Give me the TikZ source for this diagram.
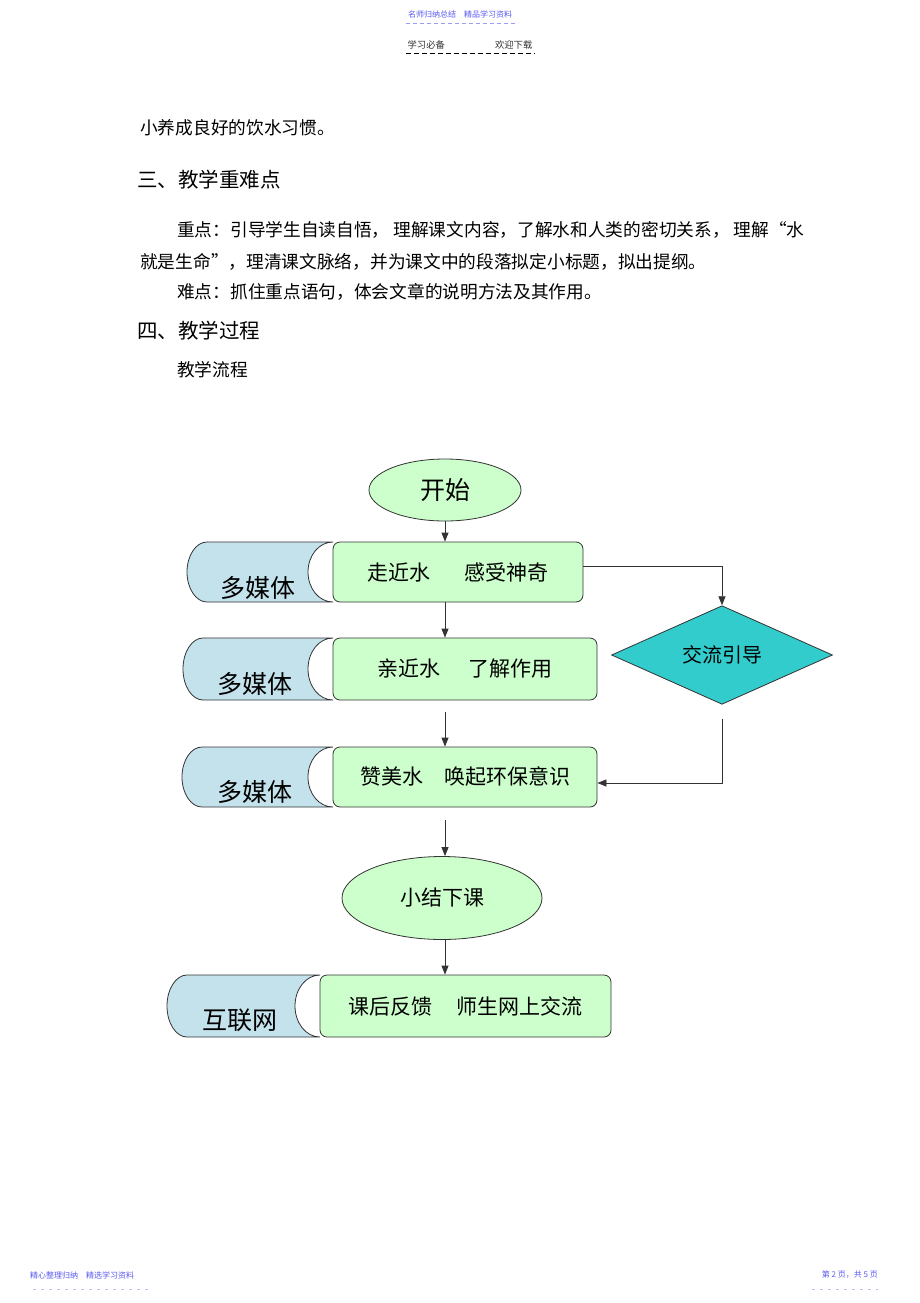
\documentclass[tikz,border=0pt]{standalone}
\usepackage{fontspec}
\setmainfont{Noto Sans CJK SC}
\usepackage{xcolor}
\usepackage{tikz}
\usetikzlibrary{shapes.geometric, arrows.meta}

\definecolor{boxgreen}{HTML}{CCFFCC}
\definecolor{mediablue}{HTML}{C4E2EC}
\definecolor{talkteal}{HTML}{33CCCC}
\definecolor{edgegray}{HTML}{333333}
\definecolor{headblue}{HTML}{5A5AF0}

% media tab: left, right, top, bottom (pixel units)
\newcommand{\mediatab}[4]{%
  \filldraw[mediatab]
    ({#1+20},#3) -- (#2,#3)
    .. controls ({#2-14},#3) and ({#2-25},{#3+0.224*(#4-#3)}) .. ({#2-25},{(#3+#4)/2})
    .. controls ({#2-25},{#4-0.224*(#4-#3)}) and ({#2-14},#4) .. (#2,#4)
    -- ({#1+20},#4)
    .. controls ({#1+9},#4) and (#1,{#4-0.224*(#4-#3)}) .. (#1,{(#3+#4)/2})
    .. controls (#1,{#3+0.224*(#4-#3)}) and ({#1+9},#3) .. ({#1+20},#3) -- cycle;}

\begin{document}
\begin{tikzpicture}[x=1pt, y=-1pt,
    body/.style={font=\fontsize{17.7pt}{21pt}\selectfont, anchor=west, inner sep=0pt},
    heading/.style={font=\fontsize{20.5pt}{24pt}\selectfont, anchor=west, inner sep=0pt},
    headtext/.style={font=\fontsize{8pt}{10pt}\selectfont, inner sep=0pt},
    stepbox/.style={thick, draw=edgegray, fill=boxgreen, rectangle, rounded corners=7pt,
        font=\fontsize{21pt}{25pt}\selectfont},
    startend/.style={thick, draw=edgegray, fill=boxgreen, ellipse},
    mediatab/.style={thick, draw=edgegray, fill=mediablue},
    medialabel/.style={font=\fontsize{25pt}{28pt}\selectfont, inner sep=0pt},
    flow/.style={thick, draw=edgegray, -{Triangle[length=9pt, width=7pt]}}]

    \fill[white] (0,0) rectangle (920,1303);
    \useasboundingbox (0,0) rectangle (920,1303);

    % page header and footer
    \node[headtext, text=headblue] at (460,14) (head1) {名师归纳总结\hspace{1em}精品学习资料};
    \draw[headblue!60, dash pattern=on 4pt off 3pt] (406,23) -- (518,23);
    \node[headtext, font=\fontsize{9.3pt}{11pt}\selectfont, text=black!80] at (470,45) (head2) {学习必备\hspace{5.4em}欢迎下载};
    \draw[thick, dash pattern=on 5pt off 3pt] (406,53) -- (535,53);
    \node[headtext, text=headblue, anchor=west] at (30,1275) (foot1) {精心整理归纳\hspace{1em}精选学习资料};
    \draw[headblue!40, dash pattern=on 3pt off 5pt] (33,1289) -- (148,1289);
    \node[headtext, text=headblue, anchor=east] at (878,1275) (foot2) {第 2 页，共 5 页};
    \draw[headblue!40, dash pattern=on 3pt off 5pt] (812,1289) -- (878,1289);

    % text of the page
    \node[body] at (140,128) (line1) {小养成良好的饮水习惯。};
    \node[heading] at (137,180) (sec3) {三、教学重难点};
    \node[body] at (177,230) (key1) {重点：引导学生自读自悟，\ 理解课文内容，了解水和人类的密切关系，\ 理解“水};
    \node[body] at (140,262) (key2) {就是生命”，理清课文脉络，并为课文中的段落拟定小标题，拟出提纲。};
    \node[body] at (177,292) (hard) {难点：抓住重点语句，体会文章的说明方法及其作用。};
    \node[heading] at (137,331) (sec4) {四、教学过程};
    \node[body] at (177,370) (flowtitle) {教学流程};

    % media tabs
    \mediatab{187}{333}{542}{602}
    \mediatab{183}{333}{638}{700}
    \mediatab{182}{333}{747}{807}
    \mediatab{167}{320}{975}{1037}
    \node[medialabel] at (258,588) (media1) {多媒体};
    \node[medialabel] at (255,684) (media2) {多媒体};
    \node[medialabel] at (255,792) (media3) {多媒体};
    \node[medialabel] at (240,1020) (media4) {互联网};

    % flow
    \node[startend, minimum width=152pt, minimum height=62pt, font=\fontsize{25pt}{28pt}\selectfont] at (445,490) (begin) {开始};
    \node[stepbox, minimum width=250pt, minimum height=60pt] at (458,572) (box1) {走近水\hspace{1.6em}感受神奇};
    \node[stepbox, minimum width=264pt, minimum height=62pt] at (465,669) (box2) {亲近水\hspace{1.3em}了解作用};
    \node[stepbox, minimum width=264pt, minimum height=60pt] at (465,777) (box3) {赞美水\hspace{1em}唤起环保意识};
    \node[startend, minimum width=200pt, minimum height=83pt, font=\fontsize{21pt}{25pt}\selectfont] at (442,898) (finish) {小结下课};
    \node[stepbox, minimum width=291pt, minimum height=62pt] at (465.5,1006) (box4) {课后反馈\hspace{1.1em}师生网上交流};
    \node[thick, draw=edgegray, fill=talkteal, diamond, inner sep=0pt, minimum width=221pt, minimum height=84pt,
        font=\fontsize{20pt}{24pt}\selectfont] at (722,655) (talk) {交流引导};

    \draw[flow] (begin.south) -- (begin.south |- box1.north);
    \draw[flow] (box1.south -| begin) -- (box2.north -| begin);
    \draw[flow, shorten <=12pt] (box2.south -| begin) -- (box3.north -| begin);
    \draw[flow, shorten <=13pt] (box3.south -| begin) -- (finish.north -| begin);
    \draw[flow] (finish.south -| begin) -- (box4.north -| begin);
    \draw[flow] ([yshift=6pt]box1.east) -| (talk.north);
    \draw[flow, shorten <=14pt] (talk.south) |- ([yshift=-6pt]box3.east);
\end{tikzpicture}
\end{document}
